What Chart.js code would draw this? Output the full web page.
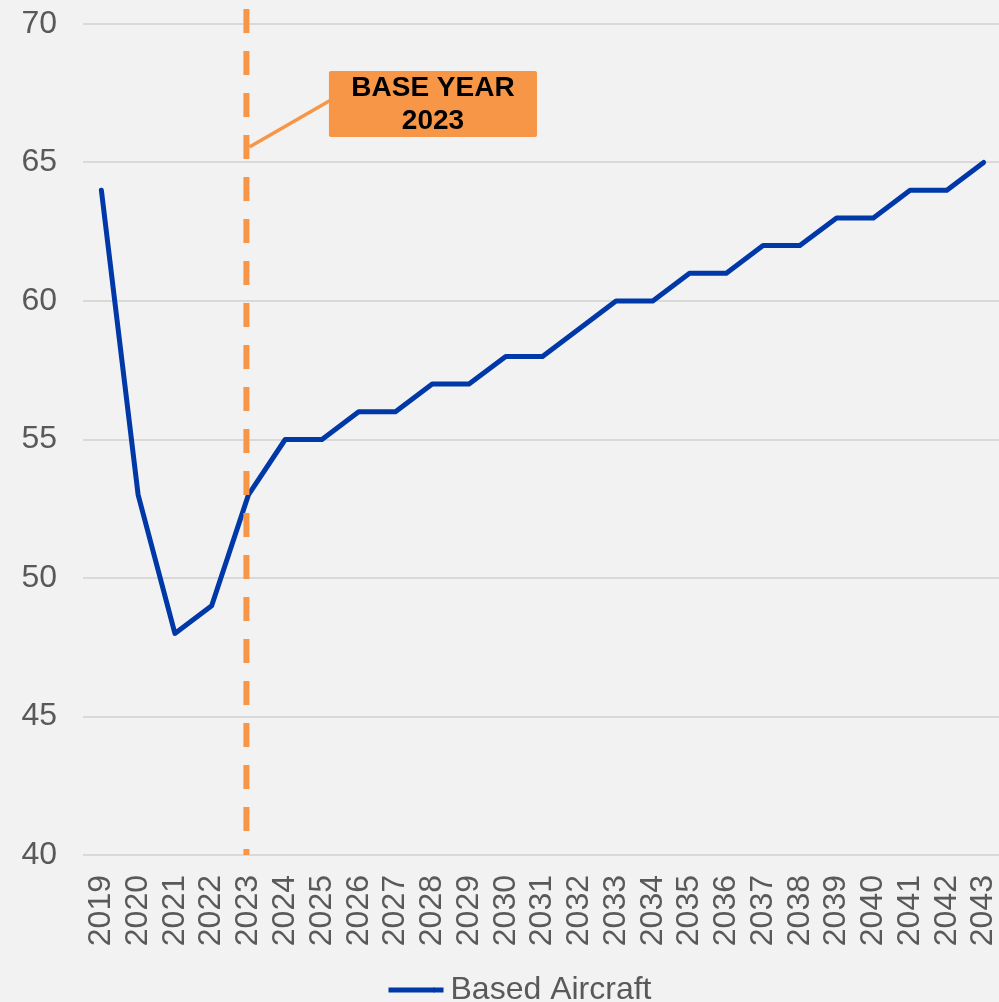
<!DOCTYPE html>
<html>
<head>
<meta charset="utf-8">
<script src="https://cdn.jsdelivr.net/npm/chart.js@4"></script>
<style>
  html, body { margin: 0; padding: 0; background: #f2f2f2; overflow: hidden; }
  #wrap { width: 999px; height: 1002px; overflow: hidden; position: relative; }
  #chart { position: absolute; left: 0; top: 0; }
</style>
</head>
<body>
<div id="wrap"><canvas id="chart" width="1002" height="1016"></canvas></div>
<script>
// chart data
const years = ['2019', '2020', '2021', '2022', '2023', '2024', '2025', '2026', '2027', '2028',
    '2029', '2030', '2031', '2032', '2033', '2034', '2035', '2036', '2037', '2038',
    '2039', '2040', '2041', '2042', '2043'];
const basedAircraft = [64, 53, 48, 49, 53, 55, 55, 56, 56, 57,
    57, 58, 58, 59, 60, 60, 61, 61, 62, 62,
    63, 63, 64, 64, 65];
const yTicks = [40, 45, 50, 55, 60, 65, 70];
const baseYear = '2023';
const baseLabel = ['BASE YEAR', '2023'];

const FONT = "'Liberation Sans', Arial, sans-serif";
const ORANGE = '#f79646';
const BLUE = '#0038a8';
const LEGEND_BOX = 46;
const LEGEND_LINE = 55;

// dashed base-year marker + callout box
const baseYearPlugin = {
    id: 'baseYear',
    afterLayout(chart) {
        // legend sits a little right of the canvas centre
        if (chart.legend) {
            chart.legend.left += 19;
            chart.legend.right += 19;
        }
    },
    afterDatasetsDraw(chart) {
        const { ctx, chartArea, scales } = chart;
        const x = scales.x.getPixelForValue(years.indexOf(baseYear)) - 2;

        ctx.save();
        ctx.strokeStyle = ORANGE;
        ctx.lineWidth = 6;
        ctx.setLineDash([24, 18]);
        ctx.beginPath();
        ctx.moveTo(x, 9);
        ctx.lineTo(x, chartArea.bottom);
        ctx.stroke();

        // connector
        const boxLeft = scales.x.getPixelForValue(6.19);
        const boxRight = scales.x.getPixelForValue(11.85);
        const boxTop = scales.y.getPixelForValue(68.3);
        const boxBottom = scales.y.getPixelForValue(65.92);
        ctx.setLineDash([]);
        ctx.lineWidth = 3.5;
        ctx.beginPath();
        ctx.moveTo(x + 3, scales.y.getPixelForValue(65.56));
        ctx.lineTo(boxLeft + 2, scales.y.getPixelForValue(67.26));
        ctx.stroke();

        // box
        ctx.fillStyle = ORANGE;
        ctx.beginPath();
        ctx.roundRect(boxLeft, boxTop, boxRight - boxLeft, boxBottom - boxTop, 2);
        ctx.fill();

        ctx.fillStyle = '#000';
        ctx.font = 'bold 28px ' + FONT;
        ctx.textAlign = 'center';
        ctx.textBaseline = 'middle';
        const cx = (boxLeft + boxRight) / 2;
        const cy = (boxTop + boxBottom) / 2;
        ctx.fillText(baseLabel[0], cx, cy - 16);
        ctx.fillText(baseLabel[1], cx, cy + 17);
        ctx.restore();
    },
    afterDraw(chart) {
        // stretch the legend swatch to full line length, keeping a tight gap to the text
        const hb = chart.legend && chart.legend.legendHitBoxes[0];
        if (!hb) return;
        const ctx = chart.ctx;
        ctx.save();
        ctx.fillStyle = BLUE;
        ctx.fillRect(hb.left + LEGEND_BOX - 1, hb.top + (32 - 5) / 2, LEGEND_LINE - LEGEND_BOX + 1, 5);
        ctx.restore();
    }
};

new Chart(document.getElementById('chart'), {
    type: 'line',
    data: {
        labels: years,
        datasets: [{
            label: 'Based Aircraft',
            data: basedAircraft,
            borderColor: BLUE,
            backgroundColor: BLUE,
            borderWidth: 5,
            pointRadius: 0,
            tension: 0,
            borderJoinStyle: 'round',
            borderCapStyle: 'round'
        }]
    },
    options: {
        responsive: false,
        animation: false,
        layout: { padding: { top: 24, left: 0, right: 0, bottom: 0 } },
        plugins: {
            tooltip: { enabled: false },
            legend: {
                position: 'bottom',
                labels: {
                    color: '#595959',
                    font: { family: FONT, size: 32 },
                    boxWidth: LEGEND_BOX,
                    boxHeight: 5,
                    padding: 8,
                    generateLabels: (chart) => chart.data.datasets.map((ds, i) => ({
                        text: ds.label,
                        fillStyle: BLUE,
                        strokeStyle: BLUE,
                        lineWidth: 0,
                        fontColor: '#595959',
                        datasetIndex: i
                    }))
                }
            }
        },
        scales: {
            x: {
                offset: true,
                grid: { display: false, drawTicks: false },
                border: { display: false },
                ticks: {
                    color: '#595959',
                    font: { family: FONT, size: 32 },
                    minRotation: 90,
                    maxRotation: 90,
                    autoSkip: false,
                    padding: 20
                },
                afterFit: (scale) => {
                    scale.height = 111;
                    scale.paddingLeft = 0;
                    scale.paddingRight = 0;
                }
            },
            y: {
                min: 40,
                max: 70,
                afterBuildTicks: (scale) => { scale.ticks = yTicks.map(v => ({ value: v })); },
                grid: { color: '#d9d9d9', lineWidth: 2, drawTicks: false },
                border: { display: false },
                ticks: {
                    color: '#595959',
                    font: { family: FONT, size: 32 },
                    padding: 26
                },
                afterFit: (scale) => {
                    scale.width = 83;
                    scale.paddingTop = 0;
                    scale.paddingBottom = 0;
                }
            }
        }
    },
    plugins: [baseYearPlugin]
});
</script>
</body>
</html>
